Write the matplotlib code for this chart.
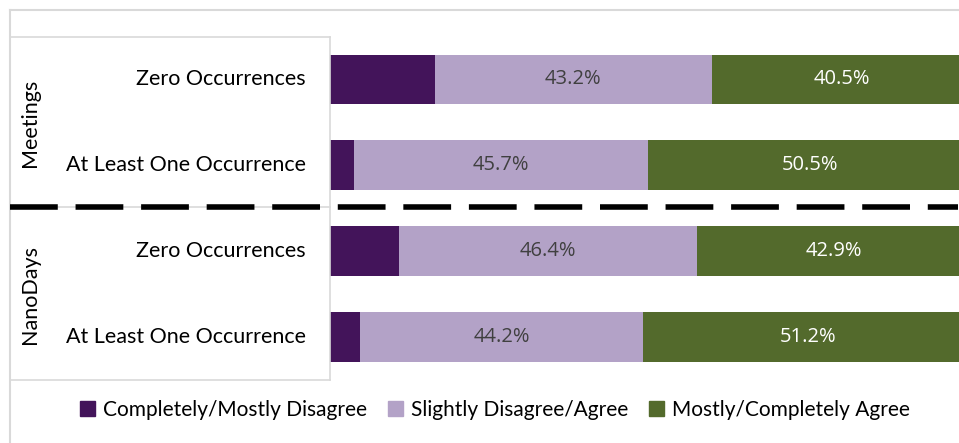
import matplotlib
matplotlib.use("Agg")
import matplotlib.pyplot as plt
import matplotlib.transforms as mtransforms
from matplotlib.lines import Line2D
from matplotlib.patches import Rectangle

groups = ["Meetings", "NanoDays"]
categories = ["Zero Occurrences", "At Least One Occurrence",
              "Zero Occurrences", "At Least One Occurrence"]
series_names = ["Completely/Mostly Disagree", "Slightly Disagree/Agree",
                "Mostly/Completely Agree"]
disagree = [16.3, 3.8, 10.7, 4.6]
neutral = [43.2, 45.7, 46.4, 44.2]
agree = [40.5, 50.5, 42.9, 51.2]

colors = ["#43145A", "#B3A2C7", "#536A2C"]
label_colors = [None, "#404040", "white"]

W, H = 959, 443
fig = plt.figure(figsize=(W / 100, H / 100), dpi=100)

def fx(px):
    return px / W

def fy(py):
    return 1 - py / H

ax = fig.add_axes([fx(330), fy(380), fx(959) - fx(330), fy(37) - fy(380)])
ax.set_xlim(0, 629 / 6.42)
ax.set_ylim(3.5, -0.494)
ax.axis("off")

ypos = list(range(len(categories)))
lefts = [0] * len(categories)
for si, vals in enumerate([disagree, neutral, agree]):
    ax.barh(ypos, vals, left=lefts, height=0.58, color=colors[si],
            label=series_names[si], edgecolor="none")
    if label_colors[si]:
        for y, l, v in zip(ypos, lefts, vals):
            ax.text(l + v / 2, y, f"{v:.1f}%", ha="center", va="center",
                    color=label_colors[si], fontsize=14.5, family="Open Sans")
    lefts = [a + b for a, b in zip(lefts, vals)]

# category labels
blend = mtransforms.blended_transform_factory(fig.transFigure, ax.transData)
for y, c in zip(ypos, categories):
    fig.text(fx(306), y, c, ha="right", va="center",
             fontsize=15.5, family="Lato", color="black", transform=blend)

# group labels
fig.text(fx(30), fy(123), groups[0], rotation=90, ha="center", va="center",
         fontsize=15.5, family="Lato")
fig.text(fx(30), fy(294), groups[1], rotation=90, ha="center", va="center",
         fontsize=15.5, family="Lato")

gray = "#D9D9D9"
def fline(x0, y0, x1, y1, **kw):
    fig.add_artist(Line2D([fx(x0), fx(x1)], [fy(y0), fy(y1)], **kw))

# outer frame
fline(10, 10, 959, 10, color=gray, lw=1.5)
fline(10, 10, 10, 443, color=gray, lw=1.5)
# inner table box
fline(10, 37, 330, 37, color=gray, lw=1.2)
fline(330, 37, 330, 380, color=gray, lw=1.2)
fline(10, 380, 330, 380, color=gray, lw=1.2)
fline(10, 207, 330, 207, color=gray, lw=1.2)
# dashed separator
fline(10, 207, 958, 207, color="black", lw=4, linestyle=(0, (8.6, 3.2)),
      solid_capstyle="butt", dash_capstyle="butt")

# legend
handles = [Rectangle((0, 0), 1, 1, color=c) for c in colors]
fig.legend(handles, series_names, loc="center", bbox_to_anchor=(fx(495), fy(410)),
           ncol=3, frameon=False, prop={"family": "Lato", "size": 15},
           handlelength=0.7, handleheight=0.7, handletextpad=0.4,
           columnspacing=1.0)

fig.savefig("out.png", dpi=100)
